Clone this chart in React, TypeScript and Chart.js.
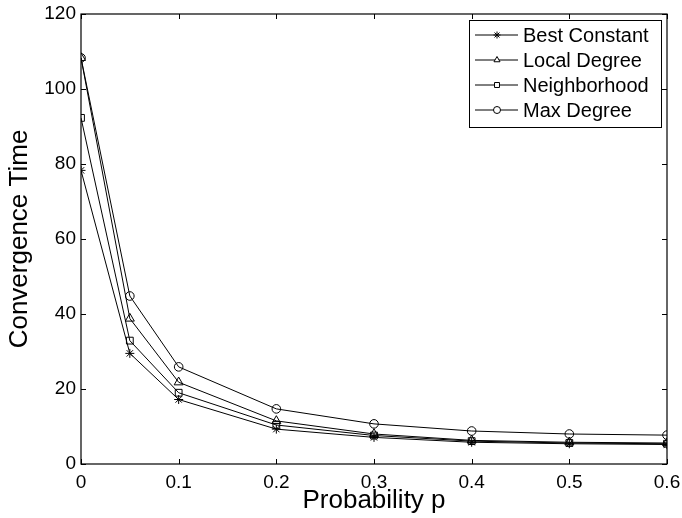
import React, { useEffect, useRef } from "react";
import { Chart, registerables } from "chart.js";

Chart.register(...registerables);

const probabilities = [0, 0.05, 0.1, 0.2, 0.3, 0.4, 0.5, 0.6];
const bestConstant = [78.3, 29.5, 17.2, 9.3, 7.1, 5.8, 5.4, 5.2];
const localDegree = [108.3, 38.8, 21.8, 11.5, 8.0, 6.3, 5.8, 5.6];
const neighborhood = [92.3, 32.9, 19.0, 10.4, 7.6, 6.1, 5.6, 5.4];
const maxDegree = [108.3, 44.8, 25.9, 14.7, 10.7, 8.8, 8.0, 7.7];

const seriesNames = ["Best Constant", "Local Degree", "Neighborhood", "Max Degree"];
const seriesValues = [bestConstant, localDegree, neighborhood, maxDegree];
const markerStyles = ["star", "triangle", "rect", "circle"];
const markerRadii = [4.5, 5.2, 4.8, 4.3];

const xTickValues = [0, 0.1, 0.2, 0.3, 0.4, 0.5, 0.6];
const xTickLabels = ["0", "0.1", "0.2", "0.3", "0.4", "0.5", "0.6"];
const yTickValues = [0, 20, 40, 60, 80, 100, 120];
const yTickLabels = ["0", "20", "40", "60", "80", "100", "120"];

const FONT = "'Liberation Sans', Arial, Helvetica, sans-serif";

function drawMarker(ctx: CanvasRenderingContext2D, style: string, x: number, y: number, r: number) {
  ctx.beginPath();
  if (style === "circle") {
    ctx.arc(x, y, r, 0, Math.PI * 2);
  } else if (style === "rect") {
    const s = r / Math.SQRT2;
    ctx.rect(x - s, y - s, 2 * s, 2 * s);
  } else if (style === "triangle") {
    for (let i = 0; i < 3; i++) {
      const a = (i * 2 * Math.PI) / 3;
      const px = x + Math.sin(a) * r;
      const py = y - Math.cos(a) * r;
      if (i === 0) ctx.moveTo(px, py);
      else ctx.lineTo(px, py);
    }
    ctx.closePath();
  } else if (style === "star") {
    for (let i = 0; i < 4; i++) {
      const a = (i * Math.PI) / 4;
      ctx.moveTo(x - Math.cos(a) * r, y - Math.sin(a) * r);
      ctx.lineTo(x + Math.cos(a) * r, y + Math.sin(a) * r);
    }
  }
  ctx.fill();
  ctx.stroke();
}

const framePlugin = {
  id: "frameAndLegend",
  afterDraw(chart: any) {
    const ctx = chart.ctx as CanvasRenderingContext2D;
    const { left, right, top, bottom } = chart.chartArea;
    const xs = chart.scales.x;
    const ys = chart.scales.y;
    ctx.save();
    ctx.strokeStyle = "#000";
    ctx.lineWidth = 1.2;
    ctx.strokeRect(left, top, right - left, bottom - top);
    ctx.lineWidth = 1;
    const tl = 5;
    ctx.beginPath();
    xTickValues.forEach((v) => {
      const px = Math.round(xs.getPixelForValue(v)) + 0.5;
      ctx.moveTo(px, bottom);
      ctx.lineTo(px, bottom - tl);
      ctx.moveTo(px, top);
      ctx.lineTo(px, top + tl);
    });
    yTickValues.forEach((v) => {
      const py = Math.round(ys.getPixelForValue(v)) + 0.5;
      ctx.moveTo(left, py);
      ctx.lineTo(left + tl, py);
      ctx.moveTo(right, py);
      ctx.lineTo(right - tl, py);
    });
    ctx.stroke();

    // legend
    const boxW = 192;
    const rowH = 25;
    const boxH = 107;
    const bx = right - 6 - boxW;
    const by = top + 6;
    ctx.fillStyle = "#fff";
    ctx.fillRect(bx, by, boxW, boxH);
    ctx.lineWidth = 1;
    ctx.strokeRect(Math.round(bx) + 0.5, Math.round(by) + 0.5, boxW, boxH);
    ctx.font = `20px ${FONT}`;
    ctx.textBaseline = "middle";
    ctx.textAlign = "left";
    chart.data.datasets.forEach((ds: any, i: number) => {
      const cy = by + 15 + i * rowH;
      ctx.beginPath();
      ctx.moveTo(bx + 6, cy);
      ctx.lineTo(bx + 49, cy);
      ctx.stroke();
      ctx.fillStyle = "#fff";
      drawMarker(ctx, markerStyles[i], bx + 28, cy, 3.5);
      ctx.fillStyle = "#000";
      ctx.fillText(ds.label, bx + 54, cy + 1);
    });
    ctx.restore();
  },
};

export default function App() {
  const ref = useRef<HTMLCanvasElement | null>(null);
  useEffect(() => {
    document.body.style.margin = "0";
    const canvas = ref.current;
    if (!canvas) return;
    const chart = new Chart(canvas, {
      type: "line",
      data: {
        datasets: seriesNames.map((name, i) => ({
          label: name,
          data: probabilities.map((p, j) => ({ x: p, y: seriesValues[i][j] })),
          borderColor: "#000",
          borderWidth: 1,
          pointStyle: markerStyles[i] as any,
          pointRadius: markerRadii[i],
          pointBorderColor: "#000",
          pointBackgroundColor: "rgba(0,0,0,0)",
          pointBorderWidth: 1,
          tension: 0,
          fill: false,
        })),
      },
      options: {
        animation: false,
        responsive: false,
        devicePixelRatio: 1,
        layout: { padding: { top: 14, right: 15, left: 0, bottom: 0 } },
        plugins: { legend: { display: false }, tooltip: { enabled: false } },
        scales: {
          x: {
            type: "linear",
            min: 0,
            max: 0.6,
            afterBuildTicks: (scale: any) => {
              scale.ticks = xTickValues.map((v) => ({ value: v }));
            },
            afterFit: (scale: any) => {
              scale.height = 54;
              scale.paddingLeft = 0;
              scale.paddingRight = 0;
            },
            ticks: {
              callback: (v: any) => {
                const idx = xTickValues.findIndex((t) => Math.abs(t - Number(v)) < 1e-9);
                return idx >= 0 ? xTickLabels[idx] : "";
              },
              color: "#000",
              font: { family: FONT, size: 19 },
              padding: 7,
              maxRotation: 0,
            },
            grid: { display: false, drawTicks: false },
            border: { display: false },
            title: {
              display: true,
              text: "Probability p",
              color: "#000",
              font: { family: FONT, size: 26 },
              padding: { top: 0, bottom: 2 },
            },
          },
          y: {
            type: "linear",
            min: 0,
            max: 120,
            afterBuildTicks: (scale: any) => {
              scale.ticks = yTickValues.map((v) => ({ value: v }));
            },
            afterFit: (scale: any) => {
              scale.width = 81;
              scale.paddingTop = 0;
              scale.paddingBottom = 0;
            },
            ticks: {
              callback: (v: any) => {
                const idx = yTickValues.indexOf(Number(v));
                return idx >= 0 ? yTickLabels[idx] : "";
              },
              color: "#000",
              font: { family: FONT, size: 19 },
              padding: 5,
            },
            grid: { display: false, drawTicks: false },
            border: { display: false },
            title: {
              display: true,
              text: "Convergence Time",
              color: "#000",
              font: { family: FONT, size: 26 },
              padding: { top: 4, bottom: 0 },
            },
          },
        },
      },
      plugins: [framePlugin],
    });
    return () => chart.destroy();
  }, []);
  return (
    <div style={{ position: "absolute", left: 0, top: 0, width: 682, height: 518, background: "#fff" }}>
      <canvas ref={ref} width={682} height={518} />
    </div>
  );
}
